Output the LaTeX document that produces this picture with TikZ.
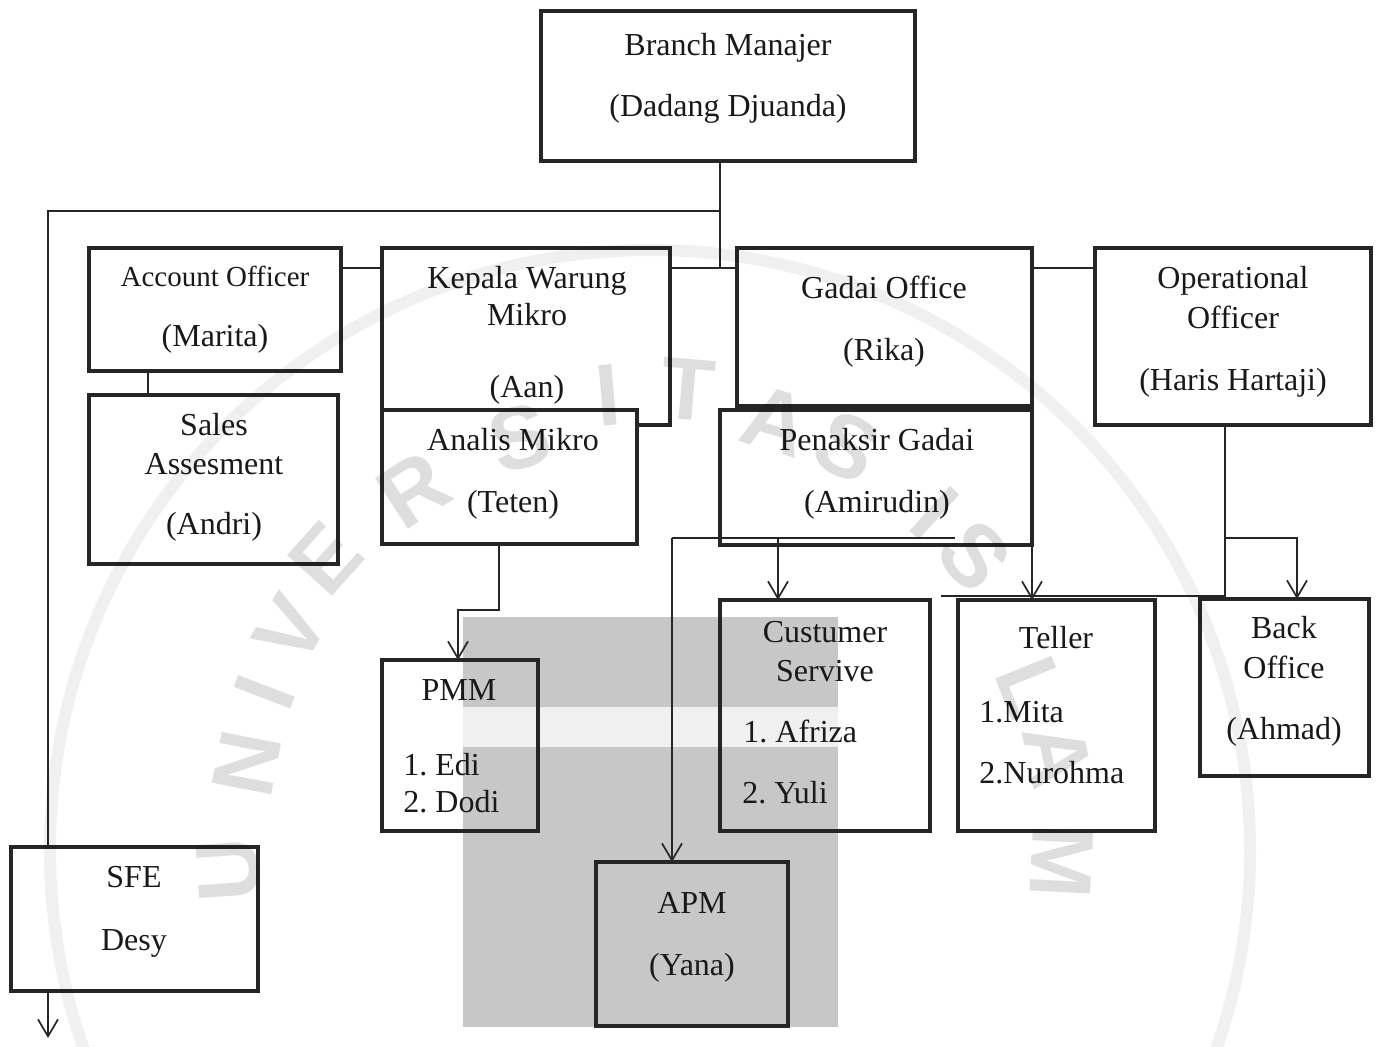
\documentclass[tikz,border=0pt]{standalone}
\usepackage{fontspec}
\setmainfont{Liberation Serif}
\newfontfamily\wmfont{Liberation Sans}
\usetikzlibrary{arrows.meta}
\frenchspacing
\newcommand\mkbox[6][]{\node[box,#1,minimum width={(#5-#3-4)*0.5pt},minimum height={(#6-#4-4)*0.5pt}] (#2) at ({(#3+#5)/2},{(#4+#6)/2}) {};}
\begin{document}
\begin{tikzpicture}[x=0.5pt,y=-0.5pt,
  box/.style={draw=black!85, line width=1.75pt, inner sep=0pt, outer sep=0pt},
  txt/.style={anchor=base, inner sep=0pt, font=\fontsize{16}{19}\selectfont, text=black!90},
  ltxt/.style={txt, anchor=base west},
  conn/.style={draw=black!85, line width=0.85pt},
  arr/.style={conn, -{Straight Barb[length=8.5pt,width=10pt,line width=0.85pt]}},
  wm/.style={inner sep=0pt, font=\wmfont\bfseries\fontsize{44}{44}\selectfont, text=black!13}
]
\useasboundingbox (0,0) rectangle (1383,1046);
% watermark block
\fill[black!22] (463,617) rectangle (838,1027);
\fill[black!6] (463,707) rectangle (838,747);
% junction coordinates
\coordinate (jA) at (720,211);
\coordinate (jB) at (720,268);
\coordinate (xL) at (48,0);
\coordinate (down) at (48,1038);
\coordinate (jC) at (148,0);
\coordinate (k1) at (499,610);
\coordinate (k2) at (458,610);
\coordinate (m0) at (672,538);
\coordinate (m1) at (955,538);
\coordinate (m2) at (778,538);
\coordinate (o1) at (1225,596);
\coordinate (o2) at (941,596);
\coordinate (o3) at (1225,538);
\coordinate (o4) at (1297,538);
% long line to the left (behind SFE)
\draw[arr] (jA) -- (jA -| xL) -- (down);
% boxes
\mkbox{bm}{539}{9}{917}{163}
\mkbox{ao}{87}{246}{343}{373}
\mkbox{kwm}{380}{246}{672}{427}
\mkbox{go}{735}{246}{1034}{408}
\mkbox{oo}{1093}{246}{1373}{427}
\mkbox{sa}{87}{393}{340}{566}
\mkbox[fill=white]{am}{380}{408}{639}{546}
\mkbox[fill=white]{pg}{718}{408}{1034}{547}
\mkbox{pmm}{380}{658}{540}{833}
\mkbox{cs}{718}{598}{932}{833}
\mkbox{tel}{956}{598}{1157}{833}
\mkbox{bo}{1198}{597}{1371}{778}
\mkbox{apm}{594}{860}{790}{1028}
\mkbox[fill=white]{sfe}{9}{845}{260}{993}
% connectors
\draw[conn] (bm.south -| jA) -- (jB);
\draw[conn] (kwm.east |- jB) -- (go.west |- jB);
\draw[conn] (ao.east |- jB) -- (kwm.west |- jB);
\draw[conn] (go.east |- jB) -- (oo.west |- jB);
\draw[conn] (ao.south -| jC) -- (sa.north -| jC);
\draw[arr] (am.south -| k1) -- (k1) -- (k2) -- (pmm.north -| k2);
\draw[conn] (m0) -- (m1);
\draw[arr] (m0) -- (apm.north -| m0);
\draw[arr] (m2) -- (cs.north -| m2);
\draw[arr] (pg.south east) -- (pg.south east |- tel.north);
\draw[conn] (oo.south -| o1) -- (o1) -- (o2);
\draw[arr] (o3) -- (o4) -- (bo.north -| o4);
% texts
\node[txt] (t1) at (728,55) {Branch Manajer};
\node[txt] (t2) at (728,116) {(Dadang Djuanda)};
\node[txt,font=\fontsize{14.5}{17}\selectfont] (t3) at (215,286) {Account Officer};
\node[txt] (t4) at (215,346) {(Marita)};
\node[txt] (t5) at (527,288) {Kepala Warung};
\node[txt] (t6) at (527,325) {Mikro};
\node[txt] (t7) at (527,397) {(Aan)};
\node[txt] (t8) at (884,298) {Gadai Office};
\node[txt] (t9) at (884,360) {(Rika)};
\node[txt] (t10) at (1233,288) {Operational};
\node[txt] (t11) at (1233,328) {Officer};
\node[txt] (t12) at (1233,390) {(Haris Hartaji)};
\node[txt] (t13) at (214,435) {Sales};
\node[txt] (t14) at (214,474) {Assesment};
\node[txt] (t15) at (214,534) {(Andri)};
\node[txt] (t16) at (513,450) {Analis Mikro};
\node[txt] (t17) at (513,512) {(Teten)};
\node[txt] (t18) at (877,450) {Penaksir Gadai};
\node[txt] (t19) at (877,512) {(Amirudin)};
\node[txt] (t20) at (459,700) {PMM};
\node[ltxt] (t21) at (403,775) {1. Edi};
\node[ltxt] (t22) at (403,812) {2. Dodi};
\node[txt] (t23) at (825,642) {Custumer};
\node[txt] (t24) at (825,681) {Servive};
\node[ltxt] (t25) at (743,742) {1. Afriza};
\node[ltxt] (t26) at (742,803) {2. Yuli};
\node[txt] (t27) at (1056,648) {Teller};
\node[ltxt] (t28) at (979,722) {1.Mita};
\node[ltxt] (t29) at (979,783) {2.Nurohma};
\node[txt] (t30) at (1284,638) {Back};
\node[txt] (t31) at (1284,678) {Office};
\node[txt] (t32) at (1284,739) {(Ahmad)};
\node[txt] (t33) at (692,913) {APM};
\node[txt] (t34) at (692,975) {(Yana)};
\node[txt] (t35) at (134,887) {SFE};
\node[txt] (t36) at (134,950) {Desy};
% faint university watermark
\begin{scope}[blend mode=multiply]
\draw[black!6, line width=6pt] (650,850) circle[radius=600];
\node[wm,rotate=94] (w1) at (229,870) {U};
\node[wm,rotate=79] (w2) at (247,764) {N};
\node[wm,rotate=69] (w3) at (265,692) {I};
\node[wm,rotate=59] (w4) at (291,630) {V};
\node[wm,rotate=48] (w5) at (326,558) {E};
\node[wm,rotate=33] (w6) at (414,490) {R};
\node[wm,rotate=17] (w7) at (520,438) {S};
\node[wm,rotate=5] (w8) at (608,395) {I};
\node[wm,rotate=-5] (w9) at (688,390) {T};
\node[wm,rotate=-17] (w10) at (776,421) {A};
\node[wm,rotate=-27] (w11) at (847,447) {S};
\node[wm,rotate=-42] (w12) at (935,513) {I};
\node[wm,rotate=-49] (w13) at (975,556) {S};
\node[wm,rotate=-68] (w14) at (1032,687) {L};
\node[wm,rotate=-78] (w15) at (1058,755) {A};
\node[wm,rotate=-93] (w16) at (1062,862) {M};
\end{scope}
\end{tikzpicture}
\end{document}
